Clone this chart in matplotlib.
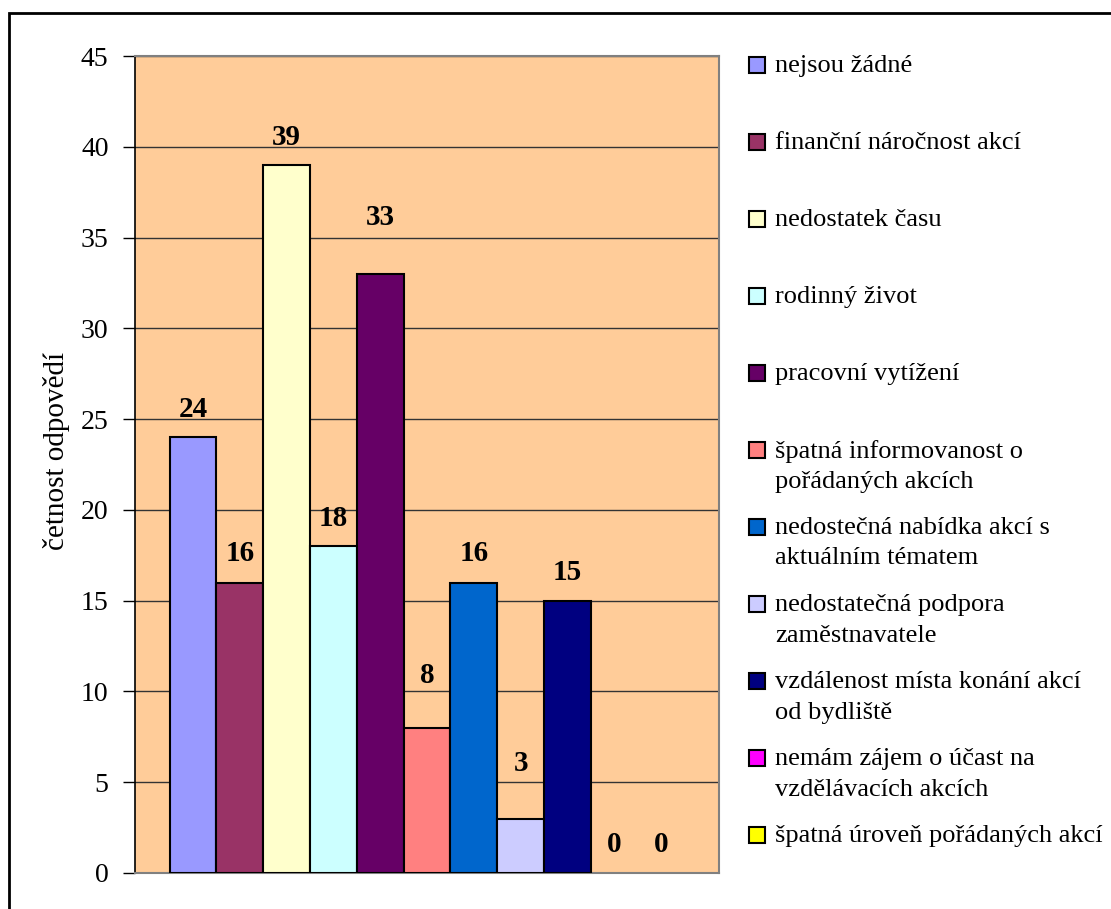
import matplotlib
matplotlib.use('Agg')
import numpy as np
from matplotlib import pyplot as plt
from matplotlib.patches import Rectangle

categories = [
    'nejsou žádné',
    'finanční náročnost akcí',
    'nedostatek času',
    'rodinný život',
    'pracovní vytížení',
    'špatná informovanost o\npořádaných akcích',
    'nedostečná nabídka akcí s\naktuálním tématem',
    'nedostatečná podpora\nzaměstnavatele',
    'vzdálenost místa konání akcí\nod bydliště',
    'nemám zájem o účast na\nvzdělávacích akcích',
    'špatná úroveň pořádaných akcí',
]
values = [24, 16, 39, 18, 33, 8, 16, 3, 15, 0, 0]
colors = ['#9999FF', '#993366', '#FFFFCC', '#CCFFFF', '#660066', '#FF8080',
          '#0066CC', '#CCCCFF', '#000080', '#FF00FF', '#FFFF00']
# label lift above bar top, in data units (Excel placed a few higher)
label_lift = [1.55, 1.6, 1.5, 1.55, 3.1, 2.9, 1.6, 3.05, 1.55, 1.55, 1.55]
yticks = [0, 5, 10, 15, 20, 25, 30, 35, 40, 45]

plt.rcParams['font.family'] = ['Liberation Serif', 'DejaVu Serif']

W, H = 1111, 909
fig = plt.figure(figsize=(W / 100, H / 100), dpi=100)

# outer chart frame (runs off the right and bottom edges)
fig.patches.append(Rectangle((9 / W, -0.1), 1.2, 1 - 13 / H + 0.1,
                             transform=fig.transFigure, fill=False,
                             edgecolor='black', linewidth=2))

ax = fig.add_axes([135 / W, 1 - 873 / H, 584 / W, 817 / H])
ax.set_facecolor('#FFCC99')

x = np.arange(len(values))
edges = ['black' if v > 0 else 'none' for v in values]
ax.bar(x, values, width=1, align='edge', color=colors,
       edgecolor=edges, linewidth=1.5, zorder=3)

for i, v in enumerate(values):
    ax.text(i + 0.5, v + label_lift[i], str(v), ha='center', va='center',
            fontsize=21, fontweight='bold', zorder=4)

ax.set_xlim(-0.74, len(values) + 0.74)
ax.set_ylim(0, 45)
ax.set_yticks(yticks)
ax.set_yticklabels([str(t) for t in yticks], fontsize=20)
ax.set_xticks([])
ax.grid(axis='y', color='#333333', linewidth=1, zorder=1)
ax.tick_params(axis='y', direction='out', length=9, width=1, pad=10)
for side in ['top', 'right', 'bottom']:
    ax.spines[side].set_color('#808080')
    ax.spines[side].set_linewidth(1.5)
ax.spines['left'].set_color('black')
ax.spines['left'].set_linewidth(1.2)

fig.text(56 / W, 1 - 451 / H, 'četnost odpovědí', rotation=90,
         ha='center', va='center', fontsize=21)

# legend, one entry every 77 px
for i, (name, c) in enumerate(zip(categories, colors)):
    yc = 65 + 77 * i
    fig.patches.append(Rectangle((749 / W, 1 - (yc + 8) / H), 16 / W, 16 / H,
                                 transform=fig.transFigure, facecolor=c,
                                 edgecolor='black', linewidth=1.5))
    fig.text(775 / W, 1 - (yc - 10) / H, name, ha='left', va='top',
             fontsize=19, linespacing=1.5)

fig.savefig('out.png', dpi=100)
